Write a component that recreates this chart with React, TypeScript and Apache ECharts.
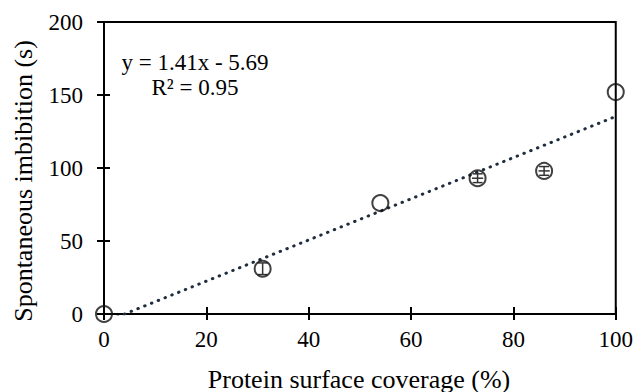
import React, { useEffect, useRef } from "react";
import * as echarts from "echarts";

const coverage = [0, 31, 54, 73, 86, 100];
const imbibition = [0, 31, 76, 93, 98, 152];
const imbibitionErr = [0, 4, 0, 3, 3, 0];
const coverageErr = [0, 0, 0, 1.1, 1.1, 0];
const slope = 1.41;
const intercept = -5.69;
const trendX = [0, 100];
const xTicks = { min: 0, max: 100, interval: 20 };
const yTicks = { min: 0, max: 200, interval: 50 };
const equationText = "y = 1.41x - 5.69";
const r2Text = "R\u00b2 = 0.95";
const xTitle = "Protein surface coverage (%)";
const yTitle = "Spontaneous imbibition (s)";

const FONT = "Liberation Serif";

export default function App() {
  const ref = useRef<HTMLDivElement>(null);
  useEffect(() => {
    if (!ref.current) return;
    const chart = echarts.init(ref.current, undefined, { renderer: "svg" });
    const points = coverage.map((x, i) => [x, imbibition[i]]);
    const errData = coverage
      .map((x, i) => [x, imbibition[i], imbibitionErr[i], coverageErr[i]])
      .filter((d) => d[2] > 0 || d[3] > 0);
    const trend = trendX.map((x) => [x, slope * x + intercept]);

    const baseX = {
      type: "value",
      min: xTicks.min,
      max: xTicks.max,
      interval: xTicks.interval,
      splitLine: { show: false },
    };
    const baseY = {
      type: "value",
      min: yTicks.min,
      max: yTicks.max,
      interval: yTicks.interval,
      splitLine: { show: false },
    };
    const txt = (text: string, x: number, y: number, size: number, rot = 0) => ({
      type: "text",
      x,
      y,
      rotation: rot,
      style: {
        text,
        fontFamily: FONT,
        fontSize: size,
        fill: "#000",
        align: "center",
        verticalAlign: "middle",
      },
    });

    chart.setOption({
      animation: false,
      textStyle: { fontFamily: FONT },
      grid: {
        left: 104,
        right: 20,
        top: 22,
        bottom: 78,
        show: true,
        borderColor: "#000",
        borderWidth: 2,
        backgroundColor: "transparent",
      },
      xAxis: [
        {
          ...baseX,
          position: "bottom",
          axisLine: { show: true, lineStyle: { color: "#000", width: 2 } },
          axisTick: { show: true, inside: false, length: 6, lineStyle: { color: "#000", width: 2 } },
          axisLabel: { color: "#000", fontFamily: FONT, fontSize: 23, margin: 14 },
        },
        {
          ...baseX,
          position: "bottom",
          axisLine: { show: false },
          axisTick: { show: true, inside: true, length: 7, lineStyle: { color: "#000", width: 2 } },
          axisLabel: { show: false },
        },
      ],
      yAxis: [
        {
          ...baseY,
          position: "left",
          axisLine: { show: true, lineStyle: { color: "#000", width: 2 } },
          axisTick: { show: true, inside: false, length: 7, lineStyle: { color: "#000", width: 2 } },
          axisLabel: { color: "#000", fontFamily: FONT, fontSize: 23, margin: 21 },
        },
        {
          ...baseY,
          position: "left",
          axisLine: { show: false },
          axisTick: { show: true, inside: true, length: 6, lineStyle: { color: "#000", width: 2 } },
          axisLabel: { show: false },
        },
      ],
      graphic: [
        txt(equationText, 195, 62, 23),
        txt(r2Text, 195, 87, 23),
        txt(xTitle, 359, 379, 26),
        txt(yTitle, 23, 181, 26, Math.PI / 2),
      ],
      series: [
        {
          type: "line",
          data: trend,
          xAxisIndex: 0,
          yAxisIndex: 0,
          symbol: "none",
          z: 3,
          lineStyle: { color: "#1f2d3f", width: 3, type: [0.5, 6.8], cap: "round" },
        },
        {
          type: "custom",
          xAxisIndex: 0,
          yAxisIndex: 0,
          data: errData,
          clip: false,
          z: 2,
          renderItem: (params: any, api: any) => {
            const x = api.value(0);
            const y = api.value(1);
            const e = api.value(2);
            const ex = api.value(3);
            const top = api.coord([x, y + e]);
            const bot = api.coord([x, y - e]);
            const lft = api.coord([x - ex, y]);
            const rgt = api.coord([x + ex, y]);
            const hw = 5;
            const style = { stroke: "#333", lineWidth: 1.5 };
            const children: any[] = [];
            if (e > 0) {
              children.push(
                { type: "line", shape: { x1: top[0], y1: top[1], x2: bot[0], y2: bot[1] }, style },
                { type: "line", shape: { x1: top[0] - hw, y1: top[1], x2: top[0] + hw, y2: top[1] }, style },
                { type: "line", shape: { x1: bot[0] - hw, y1: bot[1], x2: bot[0] + hw, y2: bot[1] }, style }
              );
            }
            if (ex > 0) {
              children.push({
                type: "line",
                shape: { x1: lft[0], y1: lft[1], x2: rgt[0], y2: rgt[1] },
                style,
              });
            }
            return { type: "group", children };
          },
        },
        {
          type: "scatter",
          xAxisIndex: 0,
          yAxisIndex: 0,
          data: points,
          clip: false,
          symbol: "circle",
          symbolSize: 16,
          z: 4,
          itemStyle: { color: "rgba(0,0,0,0)", borderColor: "#111", borderWidth: 2 },
        },
      ],
    });
    return () => chart.dispose();
  }, []);
  return (
    <div
      ref={ref}
      style={{ position: "absolute", left: 0, top: 0, width: 636, height: 392 }}
    />
  );
}
